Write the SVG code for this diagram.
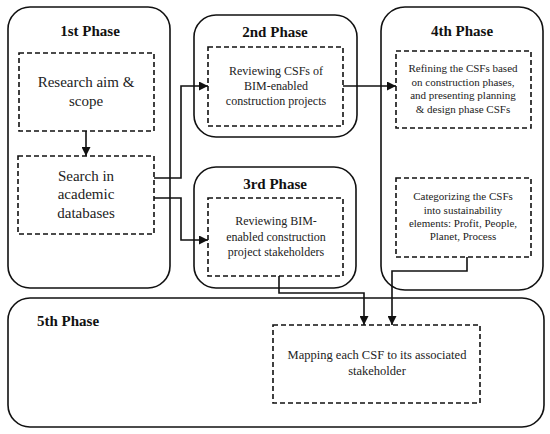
<svg xmlns="http://www.w3.org/2000/svg" width="550" height="434" viewBox="0 0 550 434">
<style>
.phase{fill:#fff;stroke:#111;stroke-width:1.6}
.dash{fill:#fff;stroke:#111;stroke-width:1.6;stroke-dasharray:5,3}
text{font-family:'Liberation Serif','DejaVu Serif',serif}
.title{font-weight:bold;font-size:15px;fill:#111}
.t15{font-size:15px;fill:#222;text-anchor:middle}
.t12{font-size:12px;fill:#222;text-anchor:middle}
.t11{font-size:11px;fill:#222;text-anchor:middle}
.conn{fill:none;stroke:#111;stroke-width:1.6}
</style>
<defs>
<marker id="arr" viewBox="0 0 10 10" refX="10" refY="5" markerWidth="9" markerHeight="9" markerUnits="userSpaceOnUse" orient="auto">
<path d="M0,0 L10,5 L0,10 z" fill="#111"/>
</marker>
</defs>
<rect width="550" height="434" fill="#fff"/>

<g id="phase1">
<rect class="phase" x="8" y="7" width="162" height="281" rx="22"/>
<text class="title" x="90" y="36" text-anchor="middle">1st Phase</text>
<g id="research-aim">
<rect class="dash" x="19" y="53" width="135" height="78"/>
<text class="t15" x="86" y="87">Research aim &amp;</text>
<text class="t15" x="86" y="106">scope</text>
</g>
<g id="search">
<rect class="dash" x="18" y="156" width="136" height="78"/>
<text class="t15" x="86" y="181">Search in</text>
<text class="t15" x="86" y="199">academic</text>
<text class="t15" x="86" y="218">databases</text>
</g>
</g>

<g id="phase2">
<rect class="phase" x="194" y="15" width="163" height="122" rx="22"/>
<text class="title" x="275" y="37" text-anchor="middle">2nd Phase</text>
<rect class="dash" x="208" y="47" width="135" height="79"/>
<text class="t12" x="276" y="75">Reviewing CSFs of</text>
<text class="t12" x="276" y="90">BIM-enabled</text>
<text class="t12" x="276" y="105">construction projects</text>
</g>

<g id="phase3">
<rect class="phase" x="194" y="167" width="162" height="121" rx="22"/>
<text class="title" x="275" y="189" text-anchor="middle">3rd Phase</text>
<rect class="dash" x="208" y="198" width="135" height="78"/>
<text class="t12" x="276" y="225">Reviewing BIM-</text>
<text class="t12" x="276" y="241">enabled construction</text>
<text class="t12" x="276" y="256">project stakeholders</text>
</g>

<g id="phase4">
<rect class="phase" x="381" y="7" width="162" height="283" rx="24"/>
<text class="title" x="462" y="36" text-anchor="middle">4th Phase</text>
<g id="refining">
<rect class="dash" x="396" y="51" width="135" height="77"/>
<text class="t11" x="463" y="72">Refining the CSFs based</text>
<text class="t11" x="463" y="86">on construction phases,</text>
<text class="t11" x="463" y="99">and presenting planning</text>
<text class="t11" x="463" y="113">&amp; design phase CSFs</text>
</g>
<g id="categorizing">
<rect class="dash" x="396" y="178" width="135" height="79"/>
<text class="t11" x="463" y="200">Categorizing the CSFs</text>
<text class="t11" x="463" y="214">into sustainability</text>
<text class="t11" x="463" y="227">elements: Profit, People,</text>
<text class="t11" x="463" y="240">Planet, Process</text>
</g>
</g>

<g id="phase5">
<rect class="phase" x="8" y="298" width="536" height="129" rx="22"/>
<text class="title" x="37" y="326">5th Phase</text>
<rect class="dash" x="273" y="325" width="207" height="78"/>
<text class="t12" x="377" y="359" style="font-size:12.5px">Mapping each CSF to its associated</text>
<text class="t12" x="377" y="375" style="font-size:12.5px">stakeholder</text>
</g>

<g id="connectors">
<path class="conn" d="M86,131 L86,156" marker-end="url(#arr)"/>
<path class="conn" d="M154,178 L181,178 L181,86 L208,86" marker-end="url(#arr)"/>
<path class="conn" d="M154,198 L181,198 L181,240 L208,240" marker-end="url(#arr)"/>
<path class="conn" d="M343,86 L396,86" marker-end="url(#arr)"/>
<path class="conn" d="M279,276 L279,293 L364,293 L364,325" marker-end="url(#arr)"/>
<path class="conn" d="M467,257 L467,271 L392,271 L392,325" marker-end="url(#arr)"/>
</g>
</svg>
